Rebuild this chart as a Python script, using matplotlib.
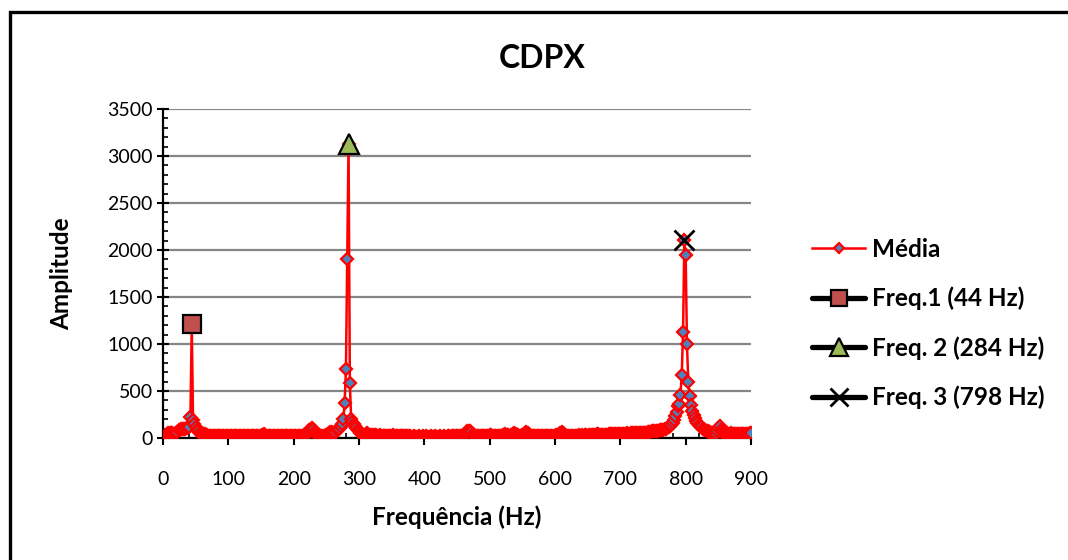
import numpy as np
import matplotlib
matplotlib.use("Agg")
import matplotlib.pyplot as plt
from matplotlib.patches import Rectangle
from matplotlib.ticker import MultipleLocator

plt.rcParams['font.family'] = ['Lato', 'DejaVu Sans']

# Spectrum sampled every 2 Hz from 0 to 900 Hz
freq_hz = np.arange(0, 901, 2)
media = [
    5, 15, 30, 45, 55, 58, 55, 50, 45, 42,            # 0-18
    50, 65, 80, 90, 95, 100, 95, 100, 108, 112,       # 20-38
    114, 220, 1210, 190, 150, 115, 90, 70, 55, 42,    # 40-58
    35, 38, 45, 35, 28, 25, 23, 22, 21, 22,           # 60-78
    23, 22, 21, 22, 22, 23, 22, 21, 22, 22,           # 80-98
    21, 22, 23, 22, 22, 21, 22, 23, 22, 21,           # 100-118
    22, 22, 21, 22, 23, 22, 22, 21, 22, 22,           # 120-138
    23, 22, 21, 22, 22, 24, 28, 45, 30, 24,           # 140-158
    22, 21, 22, 22, 23, 22, 21, 22, 22, 23,           # 160-178
    22, 22, 21, 22, 22, 23, 22, 22, 21, 22,           # 180-198
    22, 23, 22, 22, 21, 22, 24, 26, 30, 35,           # 200-218
    45, 60, 80, 100, 110, 95, 70, 50, 35, 25,         # 220-238
    20, 18, 20, 25, 22, 30, 40, 55, 65, 60,           # 240-258
    45, 40, 60, 80, 100, 95, 120, 150, 200, 370,      # 260-278
    730, 1900, 3130, 580, 200, 170, 150, 130, 110, 90,  # 280-298
    70, 55, 45, 35, 30, 40, 50, 45, 35, 28,           # 300-318
    25, 30, 35, 28, 22, 25, 30, 26, 22, 21,           # 320-338
    22, 24, 22, 21, 22, 23, 30, 25, 22, 21,           # 340-358
    22, 23, 22, 21, 22, 24, 22, 20, 18, 16,           # 360-378
    15, 14, 16, 15, 13, 15, 17, 15, 14, 16,           # 380-398
    15, 18, 14, 13, 15, 16, 14, 15, 18, 14,           # 400-418
    13, 15, 16, 14, 15, 17, 15, 14, 16, 18,           # 420-438
    15, 17, 20, 22, 21, 22, 24, 22, 23, 25,           # 440-458
    30, 40, 55, 70, 78, 75, 60, 45, 32, 26,           # 460-478
    24, 22, 23, 21, 22, 24, 22, 23, 22, 24,           # 480-498
    28, 32, 26, 22, 23, 22, 21, 23, 24, 22,           # 500-518
    28, 35, 40, 34, 28, 26, 30, 35, 42, 48,           # 520-538
    40, 32, 28, 26, 25, 30, 40, 55, 60, 48,           # 540-558
    35, 28, 25, 23, 24, 22, 23, 25, 24, 22,           # 560-578
    23, 25, 24, 22, 23, 24, 25, 23, 22, 24,           # 580-598
    26, 30, 35, 45, 55, 60, 50, 38, 30, 26,           # 600-618
    25, 24, 25, 26, 25, 24, 26, 25, 27, 26,           # 620-638
    25, 27, 26, 28, 27, 26, 28, 27, 29, 30,           # 640-658
    32, 35, 42, 38, 33, 31, 32, 30, 33, 32,           # 660-678
    35, 42, 44, 45, 43, 44, 46, 45, 44, 46,           # 680-698
    45, 47, 46, 45, 47, 48, 46, 47, 48, 49,           # 700-718
    48, 50, 49, 50, 52, 51, 50, 52, 53, 54,           # 720-738
    58, 62, 65, 68, 70, 72, 70, 73, 75, 78,           # 740-758
    80, 82, 85, 88, 92, 98, 105, 115, 125, 140,       # 760-778
    160, 190, 230, 280, 340, 360, 460, 670, 1130, 2110,  # 780-798
    1950, 1000, 600, 450, 350, 290, 240, 210, 180, 160,  # 800-818
    140, 125, 112, 100, 92, 85, 78, 70, 64, 60,       # 820-838
    56, 53, 50, 45, 70, 110, 130, 80, 60, 55,         # 840-858
    52, 50, 48, 47, 46, 48, 47, 46, 45, 47,           # 860-878
    46, 45, 47, 46, 45, 46, 47, 45, 46, 48,           # 880-898
    50,                                               # 900
]

# Highlighted peak frequencies
peak_freqs = [44, 284, 798]
peak_amps = [1210, 3130, 2110]
peak_labels = ['Freq.1 (44 Hz)', 'Freq. 2 (284 Hz)', 'Freq. 3 (798 Hz)']
peak_markers = ['s', '^', 'x']
peak_faces = ['#C0504D', '#9BBB59', 'black']
peak_sizes = [13, 15, 15]

W, H = 1068, 560
fig = plt.figure(figsize=(W / 100, H / 100), dpi=100)
fig.patch.set_facecolor('white')
ax = fig.add_axes([163 / W, 1 - 438 / H, (751 - 163) / W, (438 - 109) / H])

ax.set_xlim(0, 900)
ax.set_ylim(0, 3500)
ax.xaxis.set_major_locator(MultipleLocator(100))
ax.xaxis.set_minor_locator(MultipleLocator(20))
ax.yaxis.set_major_locator(MultipleLocator(500))
ax.yaxis.set_minor_locator(MultipleLocator(100))

ax.grid(axis='y', which='major', color='#868686', lw=1.6, zorder=0)
ax.set_axisbelow(True)
for s in ('top', 'right'):
    ax.spines[s].set_visible(False)
for s in ('left', 'bottom'):
    ax.spines[s].set_linewidth(1.6)
    ax.spines[s].set_zorder(1)

ax.tick_params(axis='y', which='major', direction='inout', length=9, width=1.5,
               labelsize=14, pad=3)
ax.tick_params(axis='y', which='minor', direction='in', length=3.5, width=1.2)
ax.tick_params(axis='x', which='major', direction='out', length=5, width=1.5,
               labelsize=14, pad=19)
ax.tick_params(axis='x', which='minor', direction='in', length=3.5, width=1.2)

handles = []
h, = ax.plot(freq_hz, media, color='#FF0000', lw=1.8, marker='D', ms=6.5,
             mfc='#4F81BD', mec='#FF0000', mew=1.6, label='Média', zorder=3)
handles.append(h)
for f, a, lab, m, fc, ms in zip(peak_freqs, peak_amps, peak_labels,
                                 peak_markers, peak_faces, peak_sizes):
    h, = ax.plot([f], [a], color='black', lw=3.8, solid_capstyle='round',
                 marker=m, ms=ms, mfc=fc, mec='black', mew=1.6 if m != 'x' else 2.0,
                 label=lab, zorder=5)
    handles.append(h)

ax.set_xlabel('Frequência (Hz)', fontsize=17.5, fontweight='bold')
ax.set_ylabel('Amplitude', fontsize=17.5, fontweight='bold')
ax.xaxis.set_label_coords(0.5, -0.205)
ax.yaxis.set_label_coords(-0.152, 0.5)

fig.text(542 / W, 1 - 58 / H, 'CDPX', fontsize=23, fontweight='bold',
         ha='center', va='center')

ax.legend(handles=handles, loc='center left',
          bbox_to_anchor=(812 / W, 1 - 323.5 / H), bbox_transform=fig.transFigure,
          frameon=False, prop={'weight': 'bold', 'size': 17.5},
          handlelength=2.2, handletextpad=0.25, labelspacing=1.07,
          borderpad=0, borderaxespad=0, markerscale=0.85)

# Chart frame
fig.add_artist(Rectangle((9.5 / W, -0.05), 1.2, (1 - 11.5 / H) + 0.05,
                         transform=fig.transFigure, fill=False, lw=2.4,
                         ec='black', clip_on=False))

fig.savefig('out.png', dpi=100)
